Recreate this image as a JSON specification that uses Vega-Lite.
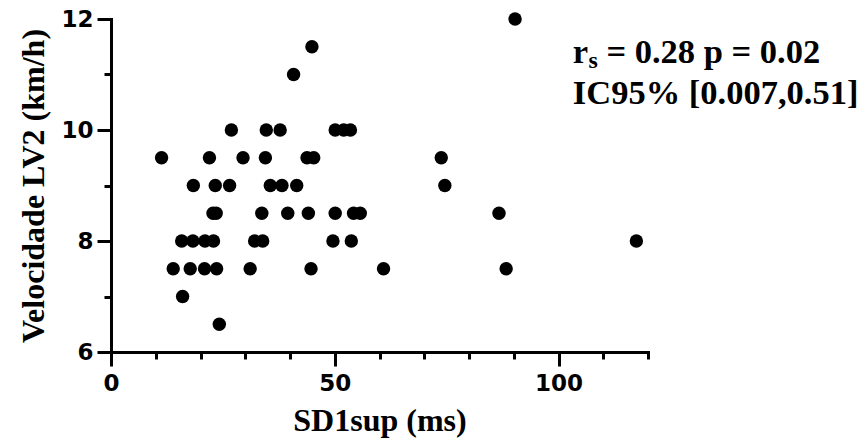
{
  "$schema": "https://vega.github.io/schema/vega-lite/v6.json",
  "width": 537,
  "height": 333,
  "autosize": {"type": "none"},
  "padding": {"left": 111, "top": 19, "right": 216, "bottom": 95},
  "background": "white",
  "config": {
    "view": {"stroke": null},
    "axis": {
      "grid": false,
      "domainColor": "black", "domainWidth": 3, "domainCap": "square",
      "tickColor": "black", "tickWidth": 3,
      "labelFont": "DejaVu Sans", "labelFontWeight": "bold", "labelColor": "black",
      "titleFont": "Liberation Serif", "titleFontWeight": "bold", "titleColor": "black"
    }
  },
  "datasets": {
    "pts": [
      {"SD1sup": 90.3, "LV2": 12},
      {"SD1sup": 44.9, "LV2": 11.5},
      {"SD1sup": 40.8, "LV2": 11},
      {"SD1sup": 26.9, "LV2": 10}, {"SD1sup": 34.7, "LV2": 10}, {"SD1sup": 37.8, "LV2": 10}, {"SD1sup": 50.1, "LV2": 10}, {"SD1sup": 52.0, "LV2": 10}, {"SD1sup": 53.5, "LV2": 10},
      {"SD1sup": 11.3, "LV2": 9.5}, {"SD1sup": 22.0, "LV2": 9.5}, {"SD1sup": 29.5, "LV2": 9.5}, {"SD1sup": 34.5, "LV2": 9.5}, {"SD1sup": 43.8, "LV2": 9.5}, {"SD1sup": 45.3, "LV2": 9.5}, {"SD1sup": 73.8, "LV2": 9.5},
      {"SD1sup": 18.4, "LV2": 9}, {"SD1sup": 23.3, "LV2": 9}, {"SD1sup": 26.5, "LV2": 9}, {"SD1sup": 35.6, "LV2": 9}, {"SD1sup": 38.2, "LV2": 9}, {"SD1sup": 41.5, "LV2": 9}, {"SD1sup": 74.6, "LV2": 9},
      {"SD1sup": 22.8, "LV2": 8.5}, {"SD1sup": 23.5, "LV2": 8.5}, {"SD1sup": 33.7, "LV2": 8.5}, {"SD1sup": 39.5, "LV2": 8.5}, {"SD1sup": 44.1, "LV2": 8.5}, {"SD1sup": 50.1, "LV2": 8.5}, {"SD1sup": 54.2, "LV2": 8.5}, {"SD1sup": 55.7, "LV2": 8.5}, {"SD1sup": 86.7, "LV2": 8.5},
      {"SD1sup": 15.8, "LV2": 8}, {"SD1sup": 18.3, "LV2": 8}, {"SD1sup": 21.0, "LV2": 8}, {"SD1sup": 22.9, "LV2": 8}, {"SD1sup": 32.1, "LV2": 8}, {"SD1sup": 33.9, "LV2": 8}, {"SD1sup": 49.6, "LV2": 8}, {"SD1sup": 53.7, "LV2": 8}, {"SD1sup": 117.4, "LV2": 8},
      {"SD1sup": 13.9, "LV2": 7.5}, {"SD1sup": 17.7, "LV2": 7.5}, {"SD1sup": 20.9, "LV2": 7.5}, {"SD1sup": 23.6, "LV2": 7.5}, {"SD1sup": 31.1, "LV2": 7.5}, {"SD1sup": 44.7, "LV2": 7.5}, {"SD1sup": 60.9, "LV2": 7.5}, {"SD1sup": 88.3, "LV2": 7.5},
      {"SD1sup": 16.0, "LV2": 7},
      {"SD1sup": 24.2, "LV2": 6.5}
    ]
  },
  "layer": [
    {
      "data": {"name": "pts"},
      "mark": {"type": "point", "filled": true, "shape": "circle", "size": 180, "color": "black", "opacity": 1},
      "encoding": {
        "x": {"field": "SD1sup", "type": "quantitative", "scale": {"domain": [0, 120], "nice": false, "zero": false},
          "axis": {"orient": "bottom", "values": [0, 10, 20, 30, 40, 50, 60, 70, 80, 90, 100, 110, 120], "title": "SD1sup (ms)",
            "labelExpr": "datum.value % 50 === 0 ? format(datum.value, 'd') : ''",
            "tickSize": {"condition": {"test": "datum.value % 50 === 0", "value": 14}, "value": 7},
            "labelFontSize": 23, "labelPadding": 6, "labelFlush": false, "labelOverlap": false,
            "titleFontSize": 32, "titlePadding": 10}},
        "y": {"field": "LV2", "type": "quantitative", "scale": {"domain": [6, 12], "nice": false, "zero": false},
          "axis": {"orient": "left", "values": [6, 6.5, 7, 7.5, 8, 8.5, 9, 9.5, 10, 10.5, 11, 11.5, 12], "title": "Velocidade LV2 (km/h)",
            "labelExpr": "datum.value % 2 === 0 ? format(datum.value, 'd') : ''",
            "tickSize": {"condition": {"test": "datum.value % 2 === 0", "value": 14}, "value": 7},
            "labelFontSize": 23, "labelPadding": 4, "labelFlush": false, "labelOverlap": false,
            "titleFontSize": 32, "titlePadding": 10}}
      }
    },
    {
      "data": {"values": [{}]},
      "mark": {"type": "text", "text": "r", "font": "Liberation Serif", "fontWeight": "bold", "fontSize": 34.5, "align": "left", "baseline": "alphabetic", "color": "black"},
      "encoding": {"x": {"datum": 103.2, "type": "quantitative"}, "y": {"datum": 11.21, "type": "quantitative"}}
    },
    {
      "data": {"values": [{}]},
      "mark": {"type": "text", "text": "s", "font": "Liberation Serif", "fontWeight": "bold", "fontSize": 24, "align": "left", "baseline": "alphabetic", "color": "black"},
      "encoding": {"x": {"datum": 106.7, "type": "quantitative"}, "y": {"datum": 11.115, "type": "quantitative"}}
    },
    {
      "data": {"values": [{}]},
      "mark": {"type": "text", "text": "= 0.28 p = 0.02", "font": "Liberation Serif", "fontWeight": "bold", "fontSize": 34.5, "align": "left", "baseline": "alphabetic", "color": "black"},
      "encoding": {"x": {"datum": 110.7, "type": "quantitative"}, "y": {"datum": 11.21, "type": "quantitative"}}
    },
    {
      "data": {"values": [{}]},
      "mark": {"type": "text", "text": "IC95% [0.007,0.51]", "font": "Liberation Serif", "fontWeight": "bold", "fontSize": 34.5, "align": "left", "baseline": "alphabetic", "color": "black"},
      "encoding": {"x": {"datum": 103.2, "type": "quantitative"}, "y": {"datum": 10.47, "type": "quantitative"}}
    }
  ]
}
